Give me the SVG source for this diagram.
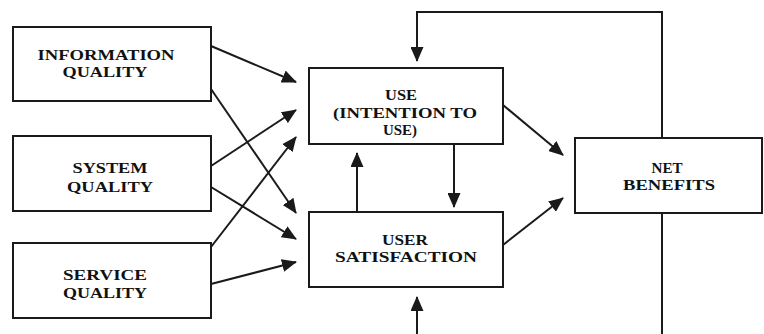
<svg xmlns="http://www.w3.org/2000/svg" width="764" height="334" viewBox="0 0 764 334">
<style>
.box{fill:#fff;stroke:#1a1a1a;stroke-width:2}
.t{font-family:"Liberation Serif","Times New Roman",serif;font-weight:bold;font-size:14px;fill:#111;text-anchor:middle}
.c{fill:none;stroke:#1a1a1a;stroke-width:2}
</style>
<defs>
<marker id="ah" markerUnits="userSpaceOnUse" markerWidth="15" markerHeight="13" refX="14" refY="6.5" orient="auto">
<path d="M0,0 L15,6.5 L0,13 Z" fill="#1a1a1a"/>
</marker>
</defs>
<rect width="764" height="334" fill="#fff"/>
<g id="connectors">
<line class="c" x1="211" y1="46" x2="296" y2="82" marker-end="url(#ah)"/>
<line class="c" x1="211" y1="89" x2="296" y2="213" marker-end="url(#ah)"/>
<line class="c" x1="211" y1="166" x2="296" y2="110" marker-end="url(#ah)"/>
<line class="c" x1="211" y1="187" x2="296" y2="239" marker-end="url(#ah)"/>
<line class="c" x1="211" y1="247" x2="296" y2="137" marker-end="url(#ah)"/>
<line class="c" x1="211" y1="284" x2="296" y2="262" marker-end="url(#ah)"/>
<line class="c" x1="357" y1="212" x2="357" y2="153" marker-end="url(#ah)"/>
<line class="c" x1="454" y1="144" x2="454" y2="207" marker-end="url(#ah)"/>
<line class="c" x1="503" y1="105" x2="563" y2="155" marker-end="url(#ah)"/>
<line class="c" x1="503" y1="245" x2="563" y2="198" marker-end="url(#ah)"/>
<path class="c" d="M662,138 V12 H417 V61" marker-end="url(#ah)"/>
<path class="c" d="M662,213 V340 H417 V297" marker-end="url(#ah)"/>
</g>
<g id="information-quality">
<rect class="box" x="13" y="27" width="198" height="74"/>
<text class="t" x="106" y="60" textLength="137" lengthAdjust="spacingAndGlyphs">INFORMATION</text>
<text class="t" x="105" y="77" textLength="85" lengthAdjust="spacingAndGlyphs">QUALITY</text>
</g>
<g id="system-quality">
<rect class="box" x="13" y="136" width="198" height="75"/>
<text class="t" x="110" y="173" textLength="75" lengthAdjust="spacingAndGlyphs">SYSTEM</text>
<text class="t" x="110" y="192" textLength="86" lengthAdjust="spacingAndGlyphs">QUALITY</text>
</g>
<g id="service-quality">
<rect class="box" x="13" y="243" width="198" height="75"/>
<text class="t" x="105" y="280" textLength="84" lengthAdjust="spacingAndGlyphs">SERVICE</text>
<text class="t" x="105" y="298" textLength="84" lengthAdjust="spacingAndGlyphs">QUALITY</text>
</g>
<g id="use">
<rect class="box" x="309" y="68" width="194" height="76"/>
<text class="t" x="401" y="100" textLength="32" lengthAdjust="spacingAndGlyphs">USE</text>
<text class="t" x="405" y="118" textLength="144" lengthAdjust="spacingAndGlyphs">(INTENTION TO</text>
<text class="t" x="400" y="135" textLength="34" lengthAdjust="spacingAndGlyphs">USE)</text>
</g>
<g id="user-satisfaction">
<rect class="box" x="309" y="212" width="194" height="75"/>
<text class="t" x="405" y="245" textLength="46" lengthAdjust="spacingAndGlyphs">USER</text>
<text class="t" x="406" y="262" textLength="142" lengthAdjust="spacingAndGlyphs">SATISFACTION</text>
</g>
<g id="net-benefits">
<rect class="box" x="575" y="138" width="187" height="75"/>
<text class="t" x="667" y="173" textLength="31" lengthAdjust="spacingAndGlyphs">NET</text>
<text class="t" x="669" y="190" textLength="92" lengthAdjust="spacingAndGlyphs">BENEFITS</text>
</g>
</svg>
